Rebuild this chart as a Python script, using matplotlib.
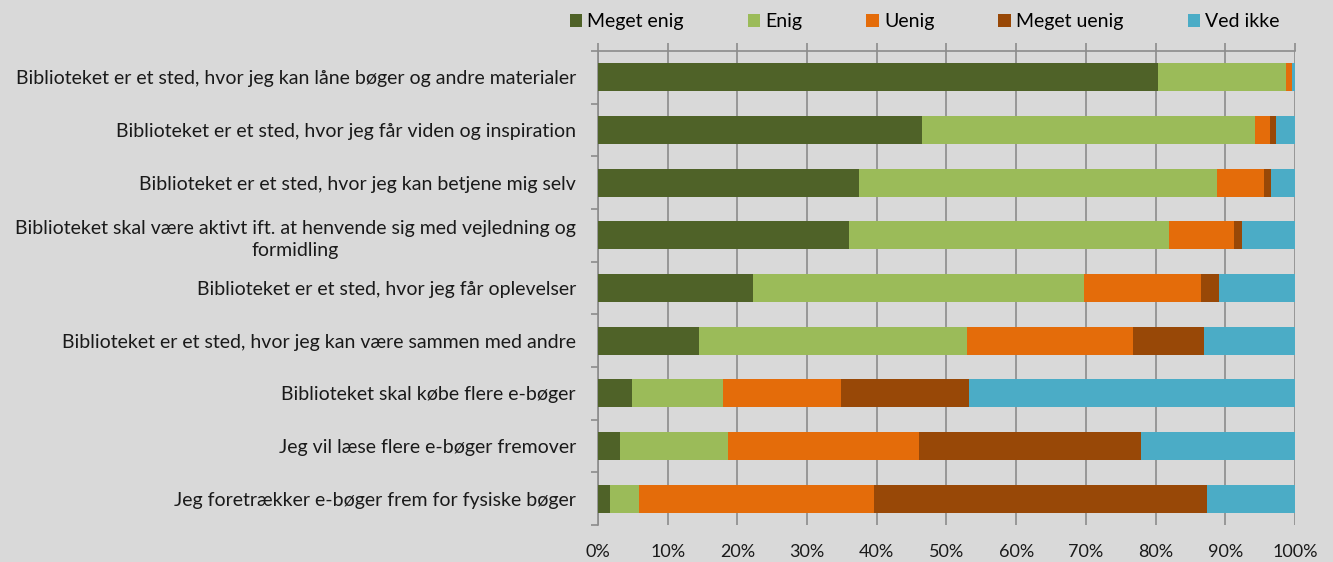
import numpy as np
import matplotlib
matplotlib.use("Agg")
import matplotlib.pyplot as plt
from matplotlib.ticker import MultipleLocator, FixedLocator, PercentFormatter

plt.rcParams['font.family'] = ['Lato', 'DejaVu Sans']

# Udsagn (top til bund)
statements = [
    "Biblioteket er et sted, hvor jeg kan låne bøger og andre materialer",
    "Biblioteket er et sted, hvor jeg får viden og inspiration",
    "Biblioteket er et sted, hvor jeg kan betjene mig selv",
    "Biblioteket skal være aktivt ift. at henvende sig med vejledning og\nformidling",
    "Biblioteket er et sted, hvor jeg får oplevelser",
    "Biblioteket er et sted, hvor jeg kan være sammen med andre",
    "Biblioteket skal købe flere e-bøger",
    "Jeg vil læse flere e-bøger fremover",
    "Jeg foretrækker e-bøger frem for fysiske bøger",
]

answers = ["Meget enig", "Enig", "Uenig", "Meget uenig", "Ved ikke"]

# andele i procent
meget_enig = [80.4, 46.5, 37.4, 36.0, 22.2, 14.5, 4.9, 3.2, 1.7]
enig = [18.3, 47.7, 51.4, 45.9, 47.5, 38.4, 13.0, 15.5, 4.2]
uenig = [0.8, 2.2, 6.7, 9.3, 16.8, 23.8, 17.0, 27.4, 33.7]
meget_uenig = [0.1, 0.9, 1.1, 1.2, 2.6, 10.2, 18.4, 31.8, 47.8]
ved_ikke = [0.4, 2.7, 3.4, 7.6, 10.9, 13.1, 46.7, 22.1, 12.6]

colors = ["#4f6228", "#9bbb59", "#e46c0a", "#984807", "#4bacc6"]
bg = "#d9d9d9"
gridc = "#8c8c8c"

series = [meget_enig, enig, uenig, meget_uenig, ved_ikke]

fig = plt.figure(figsize=(13.33, 5.62), dpi=100, facecolor=bg)
ax = fig.add_axes([0.4486, 0.0658, 0.9715 - 0.4486, 0.9093 - 0.0658])
ax.set_facecolor(bg)

y = np.arange(len(statements))
left = np.zeros(len(statements))
for vals, name, c in zip(series, answers, colors):
    vals = np.array(vals)
    ax.barh(y, vals, left=left, height=0.53, color=c, label=name, zorder=3)
    left += vals

ax.set_xlim(0, 100)
ax.set_ylim(len(statements) - 0.5, -0.5)

ax.xaxis.set_major_locator(MultipleLocator(10))
ax.xaxis.set_major_formatter(PercentFormatter(decimals=0))
ax.grid(axis='x', color=gridc, lw=1.2, zorder=1)
ax.tick_params(axis='x', top=True, bottom=False, labeltop=False, labelbottom=True,
               direction='out', length=6, width=1.2, color=gridc, pad=8,
               labelsize=13, labelcolor='#1a1a1a')

ax.set_yticks(y)
ax.set_yticklabels(statements)
ax.yaxis.set_minor_locator(FixedLocator(np.arange(-0.5, len(statements), 1)))
ax.tick_params(axis='y', which='major', length=0, pad=16, labelsize=14, labelcolor='#1a1a1a')
ax.tick_params(axis='y', which='minor', length=5, width=1.2, color=gridc, direction='out')
for lab in ax.get_yticklabels():
    lab.set_multialignment('center')
    lab.set_linespacing(1.35)

for s in ['right', 'bottom']:
    ax.spines[s].set_visible(False)
for s in ['left', 'top']:
    ax.spines[s].set_color(gridc)
    ax.spines[s].set_linewidth(1.2)

fig.legend(loc='center', bbox_to_anchor=(0.6936, 0.961), ncol=5, frameon=False,
           fontsize=14, handlelength=0.65, handleheight=0.65, handletextpad=0.25,
           columnspacing=3.3)

fig.savefig("out.png", dpi=100, facecolor=bg)
